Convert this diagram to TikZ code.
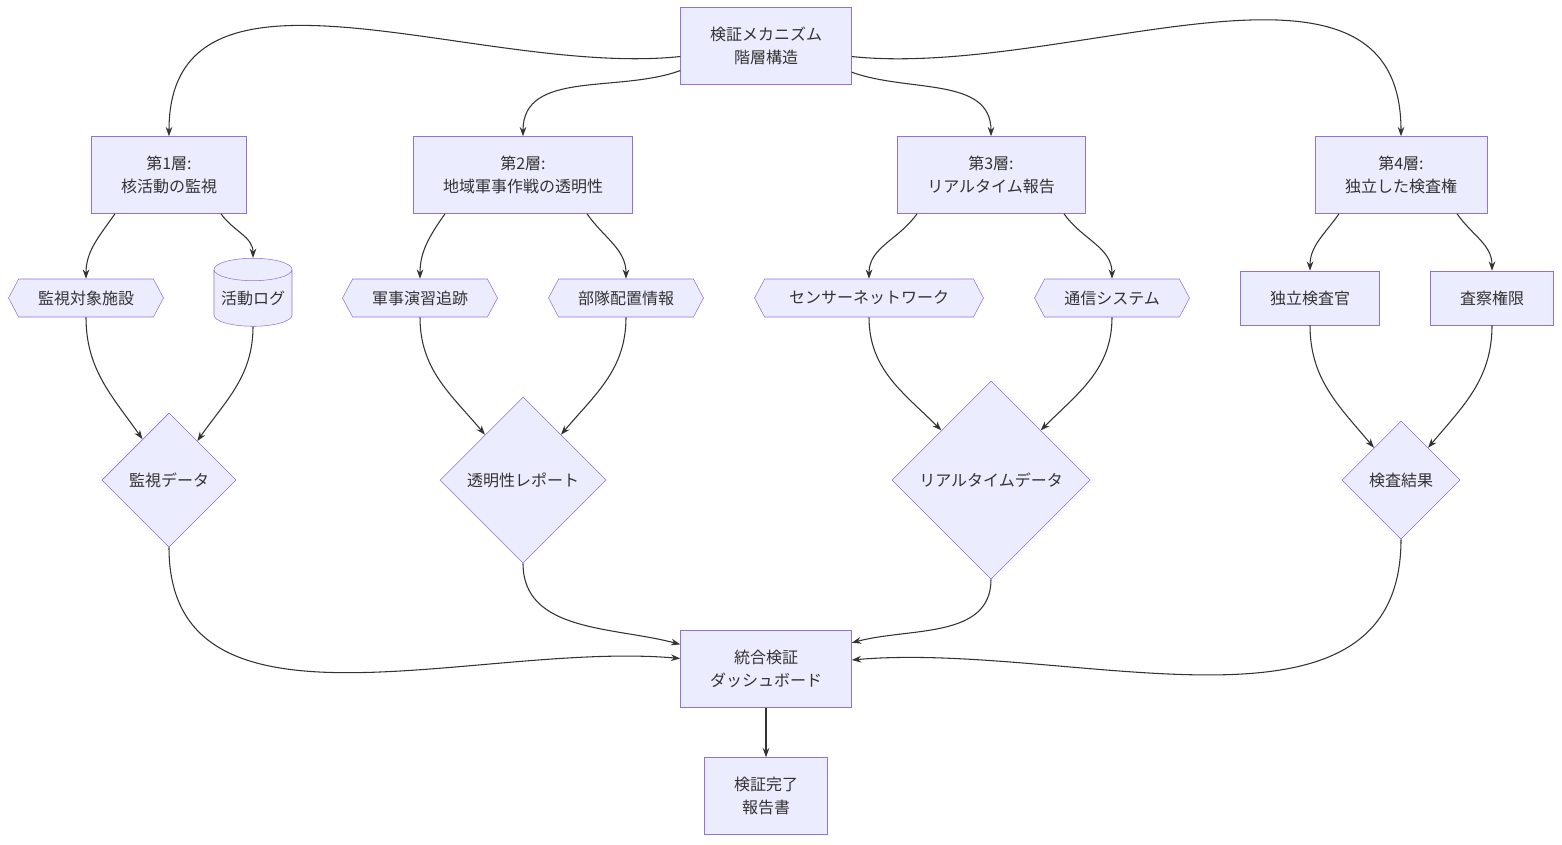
\documentclass[tikz,border=0pt]{standalone}
\usepackage{fontspec}
\setmainfont{Noto Sans CJK JP}
\usetikzlibrary{arrows.meta,calc,shapes.geometric,shapes.symbols}
\newlength\px
\setlength\px{0.75pt}
\definecolor{boxfill}{HTML}{ECECFF}
\definecolor{boxline}{HTML}{9370DB}
\definecolor{edgeline}{HTML}{333333}
\tikzset{
  base/.style={draw=boxline, fill=boxfill, font=\fontsize{12}{17}\selectfont, text=edgeline, align=center, inner sep=0pt},
  box/.style={base, rectangle, minimum height=77\px},
  hexa/.style={base, signal, signal to=west and east, signal pointer angle=124, minimum height=38\px},
  dbase/.style={base, cylinder, shape border rotate=90, aspect=0.35, minimum width=78\px, minimum height=68\px},
  decide/.style={base, diamond, aspect=1},
  link/.style={draw=edgeline, line width=0.8pt, -{Stealth[length=7pt,width=5pt]}}
}
\begin{document}
\begin{tikzpicture}[x=0.75pt, y=-0.75pt]
    \useasboundingbox (0,0) rectangle (1562,844);

    % Top and layers
    \node[box, minimum width=171\px] (top) at (766,46) {検証メカニズム\\階層構造};
    \node[box, minimum width=155\px] (L1) at (169,175) {第1層:\\核活動の監視};
    \node[box, minimum width=219\px] (L2) at (523,175) {第2層:\\地域軍事作戦の透明性};
    \node[box, minimum width=188\px] (L3) at (991,175) {第3層:\\リアルタイム報告};
    \node[box, minimum width=172\px] (L4) at (1401,175) {第4層:\\独立した検査権};

    % Sources
    \node[hexa, minimum width=155\px] (facility) at (86,298) {監視対象施設};
    \node[dbase] (actlog) at (253,298) {活動ログ};
    \node[hexa, minimum width=155\px] (drill) at (420,298) {軍事演習追跡};
    \node[hexa, minimum width=155\px] (troops) at (626,298) {部隊配置情報};
    \node[hexa, minimum width=229\px] (sensor) at (869,298) {センサーネットワーク};
    \node[hexa, minimum width=155\px] (comms) at (1112,298) {通信システム};
    \node[box, minimum width=139\px, minimum height=54\px] (inspector) at (1310,298) {独立検査官};
    \node[box, minimum width=123\px, minimum height=54\px] (authority) at (1492,298) {査察権限};

    % Decisions
    \node[decide, minimum width=134\px, minimum height=134\px] (mondata) at (169,480) {監視データ};
    \node[decide, minimum width=166\px, minimum height=166\px] (report) at (523,480) {透明性レポート};
    \node[decide, minimum width=198\px, minimum height=198\px] (rtdata) at (991,480) {リアルタイムデータ};
    \node[decide, minimum width=118\px, minimum height=118\px] (result) at (1401,480) {検査結果};

    % Dashboard
    \node[box, minimum width=171\px] (dash) at (766,669) {統合検証\\ダッシュボード};
    \node[box, minimum width=123\px] (final) at (766,796) {検証完了\\報告書};

    % Edges
    \draw[link] (top.187) to[out=186, in=90] (L1.north);
    \draw[link] (top.196) to[out=200, in=90] (L2.north);
    \draw[link] (top.-17) to[out=-20, in=90] (L3.north);
    \draw[link] (top.-7) to[out=-6, in=90] (L4.north);

    \draw[link] ($(L1.south)+(-54,0)$) to[out=-125, in=90] (facility.north);
    \draw[link] ($(L1.south)+(52,0)$) to[out=-55, in=90] (actlog.north);
    \draw[link] ($(L2.south)+(-78,0)$) to[out=-125, in=90] (drill.north);
    \draw[link] ($(L2.south)+(64,0)$) to[out=-55, in=90] (troops.north);
    \draw[link] ($(L3.south)+(-74,0)$) to[out=-125, in=90] (sensor.north);
    \draw[link] ($(L3.south)+(73,0)$) to[out=-55, in=90] (comms.north);
    \draw[link] ($(L4.south)+(-62,0)$) to[out=-125, in=90] (inspector.north);
    \draw[link] ($(L4.south)+(56,0)$) to[out=-55, in=90] (authority.north);

    \draw[link] (facility.south) to[out=-90, in=125] (mondata.123);
    \draw[link] (actlog.south) to[out=-90, in=55] (mondata.54);
    \draw[link] (drill.south) to[out=-90, in=130] (report.130);
    \draw[link] (troops.south) to[out=-90, in=50] (report.50);
    \draw[link] (sensor.south) to[out=-90, in=135] (rtdata.135);
    \draw[link] (comms.south) to[out=-90, in=45] (rtdata.45);
    \draw[link] (inspector.south) to[out=-90, in=130] (result.130);
    \draw[link] (authority.south) to[out=-90, in=50] (result.50);

    \draw[link] (mondata.south) to[out=-90, in=175] (dash.173);
    \draw[link] (report.south) to[out=-90, in=165] (dash.164);
    \draw[link] (rtdata.south) to[out=-90, in=15] (dash.17);
    \draw[link] (result.south) to[out=-90, in=5] (dash.6);
    \draw[link] (dash.south) -- (final.north);
  \end{tikzpicture}
\end{document}
